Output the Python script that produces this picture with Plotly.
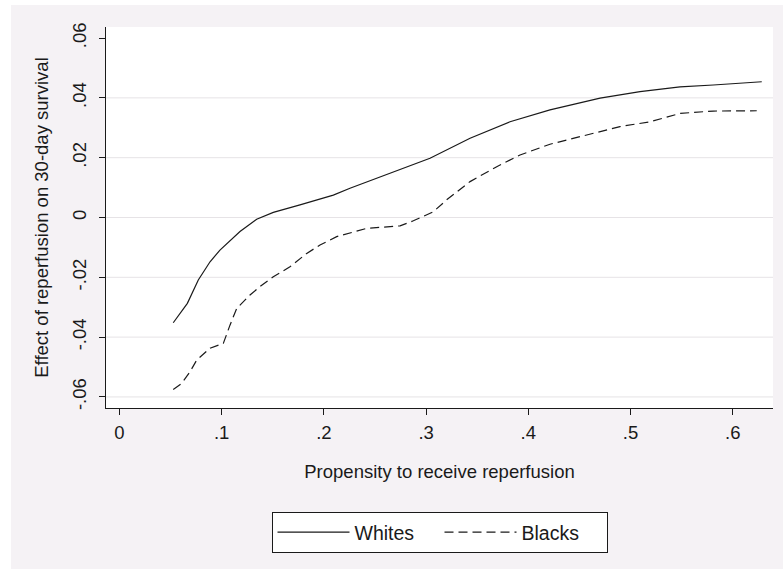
import plotly.graph_objects as go

# ---- data ----
whites_x = [0.0526, 0.0664, 0.0771, 0.0886, 0.0983, 0.1179, 0.1342, 0.1505, 0.1766,
            0.2092, 0.2255, 0.2549, 0.2745, 0.3038, 0.3430, 0.3821, 0.4212, 0.4702,
            0.5093, 0.5484, 0.5810, 0.6284]
whites_y = [-0.0352, -0.0287, -0.0209, -0.0148, -0.0109, -0.0047, -0.0006, 0.0017, 0.0042,
            0.0075, 0.0098, 0.0136, 0.0159, 0.0198, 0.0265, 0.0320, 0.0360, 0.0399,
            0.0421, 0.0437, 0.0443, 0.0454]

blacks_x = [0.0526, 0.0608, 0.0690, 0.0755, 0.0886, 0.1016, 0.1081, 0.1147, 0.1277,
            0.1375, 0.1505, 0.1668, 0.1832, 0.1962, 0.2125, 0.2255, 0.2420, 0.2549,
            0.2745, 0.2875, 0.3070, 0.3201, 0.3430, 0.3691, 0.3919, 0.4212, 0.4506,
            0.4702, 0.4897, 0.5190, 0.5484, 0.5810, 0.6235]
blacks_y = [-0.0575, -0.0555, -0.0516, -0.0477, -0.0437, -0.0421, -0.0360, -0.0304, -0.0259,
            -0.0231, -0.0198, -0.0165, -0.0120, -0.0092, -0.0064, -0.0051, -0.0036, -0.0033,
            -0.0028, -0.0011, 0.0019, 0.0059, 0.0120, 0.0170, 0.0209, 0.0245, 0.0270,
            0.0287, 0.0304, 0.0320, 0.0348, 0.0356, 0.0357]

x_tick_vals = [0, 0.1, 0.2, 0.3, 0.4, 0.5, 0.6]
x_tick_text = ["0", ".1", ".2", ".3", ".4", ".5", ".6"]
y_tick_vals = [-0.06, -0.04, -0.02, 0, 0.02, 0.04, 0.06]
y_tick_text = ["-.06", "-.04", "-.02", "0", ".02", ".04", ".06"]
grid_vals = [-0.06, -0.04, -0.02, 0, 0.02, 0.04]

series_names = ["Whites", "Blacks"]

FONT = "Liberation Sans, Arial, sans-serif"
TXT = "#1a1a1a"
BG = "#f5f2f5"
FS = 18.5

fig = go.Figure()
fig.add_trace(go.Scatter(x=whites_x, y=whites_y, mode="lines", name=series_names[0],
                         line=dict(color="#1a1a1a", width=1.2)))
fig.add_trace(go.Scatter(x=blacks_x, y=blacks_y, mode="lines", name=series_names[1],
                         line=dict(color="#1a1a1a", width=1.2, dash="9px,5px")))

shapes = [
    # white strips outside the grey frame (top and left)
    dict(type="rect", xref="paper", yref="paper", x0=-1, x1=2, y0=1.0577, y1=2,
         fillcolor="white", line=dict(width=0), layer="below"),
    dict(type="rect", xref="paper", yref="paper", x0=-1, x1=-0.1424, y0=-1, y1=2,
         fillcolor="white", line=dict(width=0), layer="below"),
]
for g in grid_vals:
    shapes.append(dict(type="line", xref="paper", yref="y", x0=0, x1=1, y0=g, y1=g,
                       line=dict(color="#e6e3e6", width=1), layer="below"))

fig.update_layout(
    width=783, height=569,
    margin=dict(l=106, r=10, t=27, b=161),
    paper_bgcolor=BG, plot_bgcolor="white",
    font=dict(family=FONT, size=FS, color=TXT),
    shapes=shapes,
    showlegend=True,
    legend=dict(orientation="h", x=0.5, xanchor="center", y=-0.273, yanchor="top",
                bgcolor="white", bordercolor="#1a1a1a", borderwidth=1,
                itemwidth=72, entrywidth=80, entrywidthmode="pixels",
                font=dict(family=FONT, size=19.5, color=TXT),
                itemclick=False, itemdoubleclick=False),
    xaxis=dict(range=[-0.0132, 0.6394], tickvals=x_tick_vals, ticktext=x_tick_text,
               showgrid=False, zeroline=False, showline=True, linecolor="#1a1a1a", linewidth=1,
               ticks="outside", ticklen=6, tickcolor="#1a1a1a", tickwidth=1,
               ticklabelstandoff=2,
               title=dict(text="Propensity to receive reperfusion", standoff=22,
                          font=dict(family=FONT, size=FS, color=TXT))),
    yaxis=dict(range=[-0.0637, 0.0637], tickvals=y_tick_vals, ticktext=y_tick_text,
               tickangle=-90, ticklabelstandoff=6,
               showgrid=False, zeroline=False, showline=True, linecolor="#1a1a1a", linewidth=1,
               ticks="outside", ticklen=6, tickcolor="#1a1a1a", tickwidth=1,
               title=dict(text="Effect of reperfusion on 30-day survival", standoff=15,
                          font=dict(family=FONT, size=FS, color=TXT))),
)

fig.write_html("out.html")
